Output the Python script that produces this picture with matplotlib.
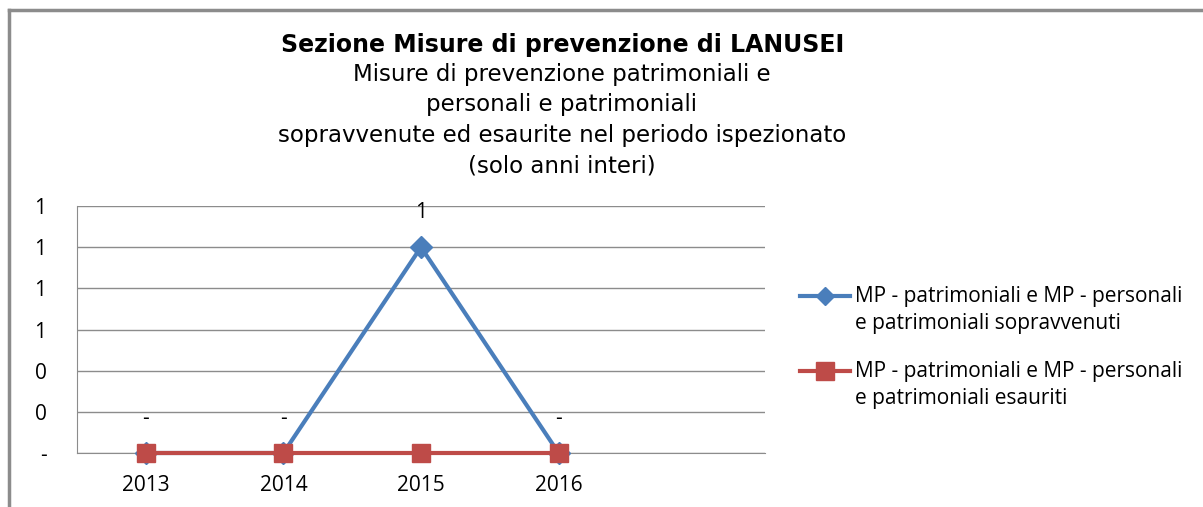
import matplotlib.pyplot as plt
from matplotlib.lines import Line2D

# data
anni = ['2013', '2014', '2015', '2016']
sopravvenuti = [0, 0, 1, 0]
esauriti = [0, 0, 0, 0]
etichette_sopr = ['-', '-', '1', '-']
y_ticks = [0, 0.2, 0.4, 0.6, 0.8, 1.0, 1.2]
y_labels = ['-', '0', '0', '1', '1', '1', '1']
nomi = ['MP - patrimoniali e MP - personali\ne patrimoniali sopravvenuti',
        'MP - patrimoniali e MP - personali\ne patrimoniali esauriti']

blu = '#4a7ebb'
rosso = '#be4b48'
grigio = '#8c8c8c'

fig = plt.figure(figsize=(12.03, 5.07), dpi=100)
W, H = 1203, 507

# outer border of the chart (top and left visible)
fig.add_artist(Line2D([9 / W, 9 / W], [0, 1 - 10 / H], color=grigio, lw=2.5))
fig.add_artist(Line2D([9 / W, 1], [1 - 10 / H, 1 - 10 / H], color=grigio, lw=2.5))

ax = fig.add_axes([77 / W, 1 - 453 / H, 688 / W, 247 / H])
x = list(range(len(anni)))

ax.plot(x, sopravvenuti, color=blu, lw=3, marker='D', ms=11, zorder=3, clip_on=False)
ax.plot(x, esauriti, color=rosso, lw=3, marker='s', ms=13, zorder=4, clip_on=False)

for xi, yi, t in zip(x, sopravvenuti, etichette_sopr):
    ax.annotate(t, (xi, yi), xytext=(0, 25), textcoords='offset points',
                ha='center', va='center', fontsize=15, family='Open Sans')

ax.set_xlim(-0.5, 4.5)
ax.set_ylim(0, 1.2)
ax.set_xticks(x)
ax.set_xticklabels(anni, fontsize=15, family='Open Sans')
ax.set_yticks(y_ticks)
ax.set_yticklabels(y_labels, fontsize=15, family='Open Sans')
ax.tick_params(axis='y', length=0, pad=22)
ax.tick_params(axis='x', length=4, color=grigio, direction='out', pad=12)
ax.grid(axis='y', color=grigio, lw=1)
ax.set_axisbelow(True)
for s in ['top', 'right']:
    ax.spines[s].set_visible(False)
for s in ['left', 'bottom']:
    ax.spines[s].set_color(grigio)

# legend, handle aligned with the first text line as in Excel
leg_y = [296, 371]
stili = [dict(color=blu, marker='D', ms=9), dict(color=rosso, marker='s', ms=13)]
for yy, nome, st in zip(leg_y, nomi, stili):
    fy = 1 - yy / H
    fig.add_artist(Line2D([800 / W, 850 / W], [fy, fy], lw=3, color=st['color']))
    fig.add_artist(Line2D([825 / W], [fy], lw=0, **st))
    fig.text(855 / W, fy + 10 / H, nome, ha='left', va='top', fontsize=15,
             family='Open Sans', linespacing=1.35)

# title
fig.text(563 / W, 1 - 45 / H, 'Sezione Misure di prevenzione di LANUSEI',
         ha='center', va='center', fontsize=17, fontweight='bold', family='DejaVu Sans')
fig.text(562 / W, 1 - 120 / H,
         'Misure di prevenzione patrimoniali e\npersonali e patrimoniali\n'
         'sopravvenute ed esaurite nel periodo ispezionato\n(solo anni interi)',
         ha='center', va='center', fontsize=16.5, family='DejaVu Sans', linespacing=1.42)

fig.savefig('out.png', dpi=100)
